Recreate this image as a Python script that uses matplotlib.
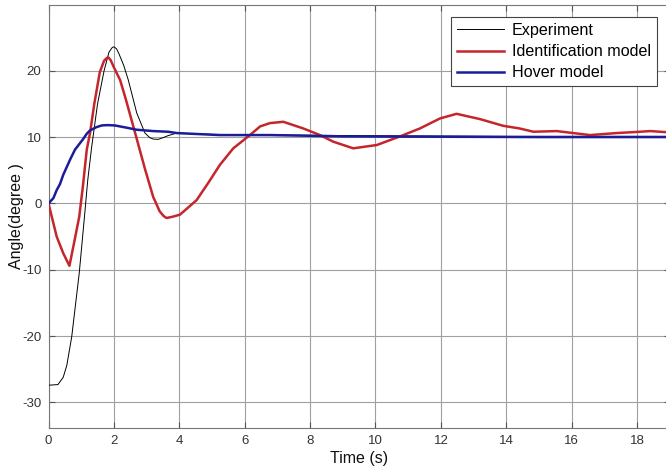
import matplotlib
matplotlib.use("Agg")
import matplotlib.pyplot as plt

plt.rcParams['font.family'] = ['Liberation Sans', 'DejaVu Sans']
plt.rcParams['axes.unicode_minus'] = False

# Experiment (black thin line)
exp_t = [0, 0.29, 0.45, 0.56, 0.71, 0.94, 1.1, 1.2, 1.32, 1.5, 1.7, 1.85, 1.95, 2.0, 2.08, 2.15,
         2.3, 2.44, 2.7, 2.95, 3.1, 3.2, 3.35, 3.5, 3.65, 3.92, 5, 7, 10, 14, 19]
exp_v = [-27.4, -27.3, -26.2, -24.4, -20.1, -10.5, -2.0, 3.5, 8.5, 15.0, 20.0, 22.8, 23.5, 23.6, 23.3, 22.6,
         20.8, 18.6, 13.6, 10.6, 9.9, 9.7, 9.65, 9.9, 10.2, 10.6, 10.4, 10.3, 10.2, 10.1, 10.1]

# Identification model (red)
id_t = [0, 0.25, 0.45, 0.64, 0.8, 0.94, 1.05, 1.17, 1.27, 1.40, 1.57, 1.7, 1.78, 1.83, 1.9, 2.0, 2.19,
        2.37, 2.65, 2.95, 3.2, 3.4, 3.52, 3.61, 3.8, 4.02, 4.53, 4.9, 5.24, 5.65, 6.16, 6.47, 6.77,
        7.18, 7.79, 8.3, 8.71, 9.32, 10.04, 10.75, 11.36, 11.97, 12.48, 13.2, 13.9, 14.4,
        14.83, 15.54, 16.05, 16.56, 17.37, 18.09, 18.4, 19]
id_v = [0, -5.0, -7.5, -9.4, -5.5, -2.0, 2.5, 8.1, 10.6, 15.0, 19.8, 21.5, 21.9, 22.0, 21.6, 20.5, 18.6,
        15.6, 10.6, 5.2, 1.0, -1.2, -1.9, -2.2, -2.0, -1.7, 0.5, 3.2, 5.8, 8.3, 10.3, 11.6, 12.1,
        12.3, 11.3, 10.3, 9.3, 8.3, 8.8, 10.1, 11.3, 12.8, 13.5, 12.7, 11.7, 11.3,
        10.8, 10.9, 10.6, 10.3, 10.6, 10.8, 10.9, 10.7]

# Hover model (blue)
hov_t = [0, 0.15, 0.25, 0.35, 0.45, 0.56, 0.66, 0.81, 0.95, 1.06, 1.17, 1.27, 1.47, 1.63, 1.8, 2.03, 2.4, 2.7,
         3.2, 3.66, 3.92, 5.24, 6.77, 9, 12, 15, 19]
hov_v = [0, 0.8, 2.0, 2.9, 4.3, 5.5, 6.6, 8.1, 9.0, 9.7, 10.5, 11.0, 11.5, 11.75, 11.8, 11.75, 11.4, 11.1,
         10.9, 10.8, 10.6, 10.3, 10.3, 10.1, 10.05, 10.0, 10.0]

labels = ["Experiment", "Identification model", "Hover model"]
x_ticks = [0, 2, 4, 6, 8, 10, 12, 14, 16, 18]
y_ticks = [-30, -20, -10, 0, 10, 20]

fig = plt.figure(figsize=(6.66, 4.70), dpi=100)
ax = fig.add_axes([48.5 / 666, 1 - 427.7 / 470, 621.3 / 666, (427.7 - 5) / 470])

ax.plot(exp_t, exp_v, color='black', lw=0.7, label=labels[0], zorder=3)
ax.plot(id_t, id_v, color='#c4262b', lw=1.8, label=labels[1], zorder=4)
ax.plot(hov_t, hov_v, color='#1c1c9a', lw=1.8, label=labels[2], zorder=5)

ax.set_xlim(0, 19)
ax.set_ylim(-33.8, 29.9)
ax.set_xticks(x_ticks)
ax.set_yticks(y_ticks)
ax.grid(True, color='#a0a0a0', lw=0.8)
ax.set_axisbelow(True)
ax.tick_params(direction='in', length=4, colors='#555555', labelcolor='#333333',
               labelsize=9.5, top=True, right=True, pad=5)
for s in ax.spines.values():
    s.set_color('#777777')
    s.set_linewidth(0.8)

ax.set_xlabel("Time (s)", fontsize=11.5, color='#111111', labelpad=3)
ax.set_ylabel("Angle(degree )", fontsize=11.5, color='#111111')
ax.yaxis.set_label_coords(-0.04, 0.5)

leg = ax.legend(loc='upper right', bbox_to_anchor=(657 / 666, 1 - 17 / 470),
                bbox_transform=fig.transFigure, borderaxespad=0, fontsize=11.6,
                fancybox=False, framealpha=1, edgecolor='#444444',
                handlelength=2.9, handletextpad=0.5, labelspacing=0.38, borderpad=0.38)
leg.get_frame().set_linewidth(0.8)

fig.savefig("out.png", dpi=100)
